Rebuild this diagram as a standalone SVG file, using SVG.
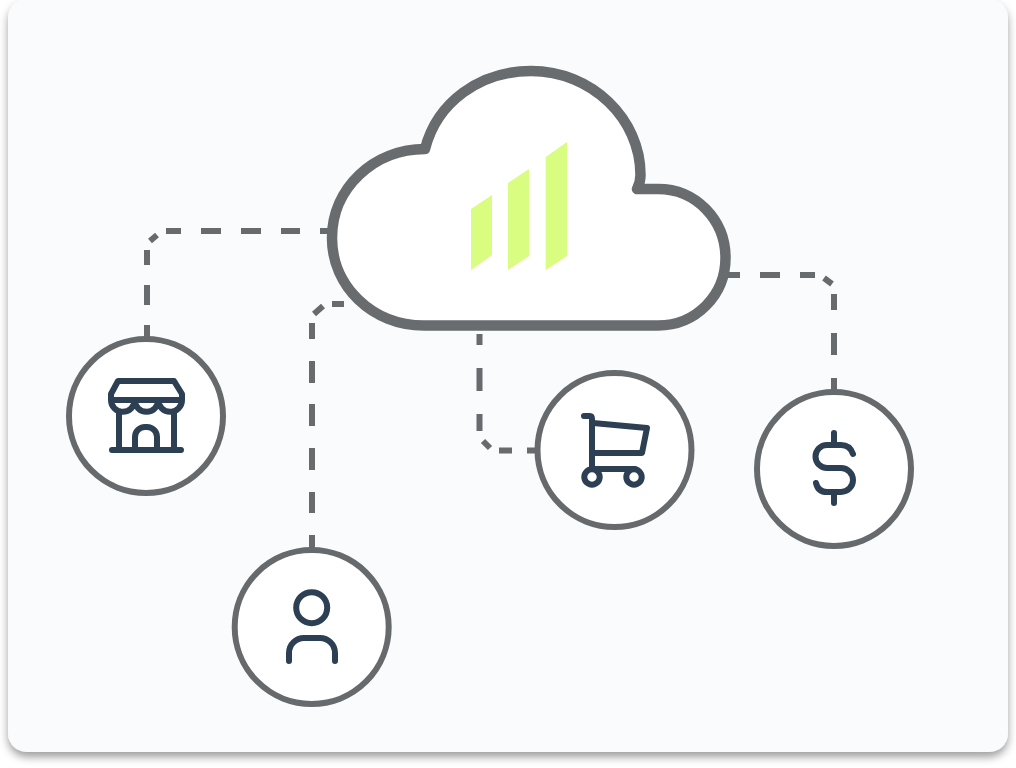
<svg xmlns="http://www.w3.org/2000/svg" width="1016" height="768" viewBox="0 0 1016 768">
<defs>
<style>
.conn{fill:none;stroke:#686b6e;stroke-width:6}
.ring{fill:#fff;stroke:#676a6d;stroke-width:6}
.icon{fill:none;stroke:#2c3f53;stroke-width:6;stroke-linecap:round;stroke-linejoin:round}
.bar{fill:#d9fd80}
</style>
<filter id="shadow" x="-5%" y="-5%" width="110%" height="110%">
<feDropShadow dx="0" dy="5" stdDeviation="4" flood-color="#000" flood-opacity="0.38"/>
</filter>
</defs>
<rect width="1016" height="768" fill="#fff"/>
<rect id="card" x="8" y="-1" width="1000" height="753" rx="19" fill="#fafbfd" filter="url(#shadow)"/>
<g id="connectors">
<path class="conn" d="M147 338V325M147 305V285M147 265V250M150 241L157 235M166 231H181M201 231H221M241 231H261M281 231H300M320 231H334"/>
<path class="conn" d="M312 548V535M312 513V492M312 470V448M312 426V404M312 383V361M312 339V323M314 314L323 306M332 304H344"/>
<path class="conn" d="M479.500 334V345M479.500 368V391M479.500 414V431M483 441L490 448M499 450.500H512M527 450.500H540"/>
<path class="conn" d="M728 275H740M760 275H780M800 275H815M824 278L832 284M834 294V310M834 333V355M834 378V392"/>
</g>
<g id="cloud">
<path d="M425 149C437 102 480 71 531 71C592 71 640.500 119 640.500 175Q640.500 182 637 189H658C696 189 725.500 220 725.500 258C725.500 295 696 325.500 658 325.500H424C372 325.500 332 286 332 238C332 188 374 149 425 149Z" fill="#fff" stroke="#686c6f" stroke-width="10.500" stroke-linejoin="round"/>
<polygon class="bar" points="471,209 492,195 492,255 471,270"/>
<polygon class="bar" points="508,183 529,169 529,256 508,270"/>
<polygon class="bar" points="545.700,157 567,142 567,256 545.700,270"/>
</g>
<g id="store">
<circle class="ring" cx="146" cy="416" r="77"/>
<path class="icon" d="M118 381H174L182 394V400H111V394ZM111 400A11.800 11.800 0 0 0 134.700 400A11.800 11.800 0 0 0 158.300 400A11.800 11.800 0 0 0 182 400M119 411V450M174 411V450M112 450H181M135 450V437A10 10 0 0 1 145 427H147A10 10 0 0 1 157 437V450"/>
</g>
<g id="user">
<circle class="ring" cx="311.700" cy="627" r="77"/>
<circle class="icon" cx="311.700" cy="607.700" r="15.500"/>
<path class="icon" d="M289 661V653A15 15 0 0 1 304 638H320A15 15 0 0 1 335 653V661"/>
</g>
<g id="cart">
<circle class="ring" cx="614.500" cy="450" r="77"/>
<path class="icon" d="M584 416H590Q592 416 592 419V469H635M593 423L647 428L642 453H593"/>
<circle class="icon" cx="592" cy="477" r="7.700"/>
<circle class="icon" cx="634" cy="477" r="7.700"/>
</g>
<g id="dollar">
<circle class="ring" cx="834" cy="469" r="77"/>
<path class="icon" d="M834 433V443M834 493V503M853 454Q850 445 841 445H827A11.500 11.500 0 0 0 827 468H841A12 12 0 0 1 841 492H827Q818 492 816 483"/>
</g>
</svg>
